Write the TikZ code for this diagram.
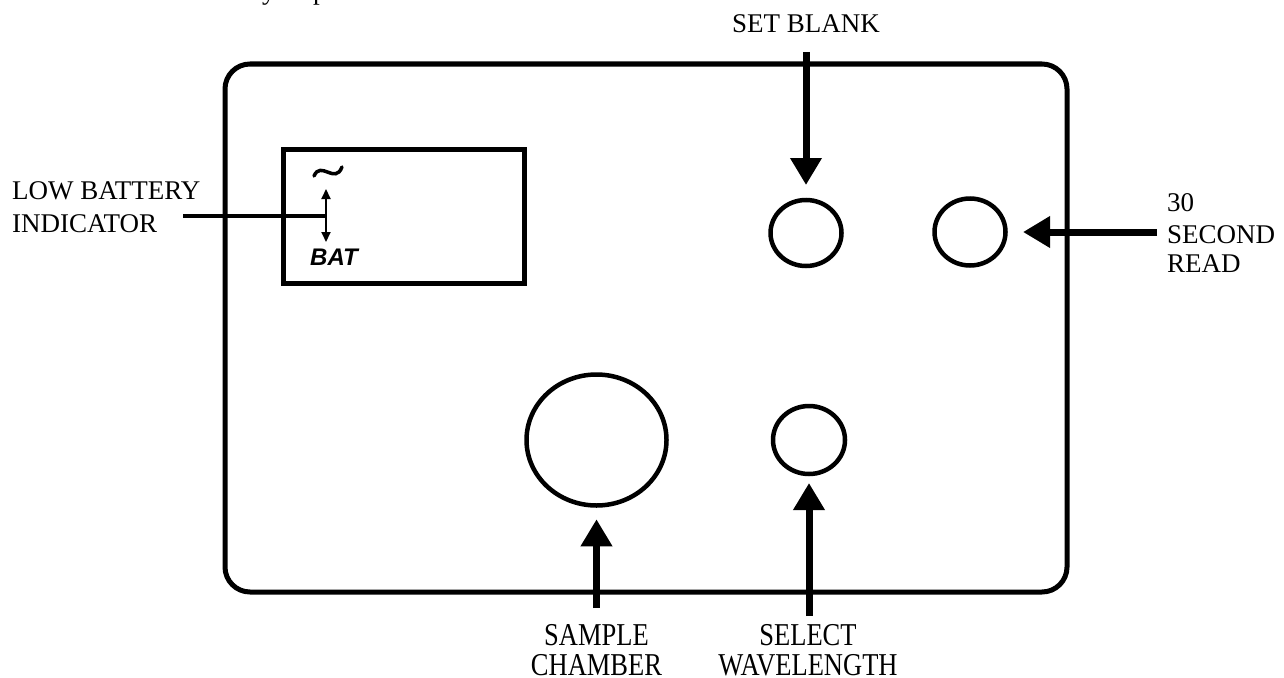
\documentclass[tikz,border=0pt]{standalone}
\usepackage{fontspec}
\setmainfont{Liberation Serif}
\newfontfamily\lcdfont{Liberation Sans}
\usetikzlibrary{arrows.meta,shapes.geometric}

\tikzset{
  panel/.style={draw, line width=5pt, rounded corners=25pt},
  lcdbox/.style={draw, rectangle, line width=5pt, inner sep=0pt},
  knob/.style={draw, ellipse, line width=4.5pt, inner sep=0pt},
  pointer/.style={line width=7pt, -{Triangle[width=30pt,length=27pt]}},
  lbl/.style={font=\fontsize{27}{30}\selectfont, inner sep=0pt},
  tall/.style={font=\fontsize{26.5}{30}\selectfont, inner sep=0pt},
  leader/.style={line width=3.5pt},
  twoway/.style={line width=2pt, {Triangle[width=9pt,length=10pt]}-{Triangle[width=9pt,length=10pt]}},
}

\begin{document}
\begin{tikzpicture}[x=1pt,y=-1pt]
\useasboundingbox (0,0) rectangle (1284,677);

% descenders of a line of text running off the top edge
\begin{scope}
  \clip (0,0) rectangle (1284,677);
  \node[lbl, anchor=base west] (fragy) at (262,0) {y};
  \node[lbl, anchor=base west] (fragp) at (313,0) {p};
\end{scope}

% instrument front panel
\draw[panel] (225,64) rectangle (1067,592);

% display window
\node[lcdbox, minimum width=241pt, minimum height=134pt] (lcd) at (403.5,216) {};
\draw[line width=3.5pt, line cap=round] (314,176) .. controls (321,160) and (335,185) .. (342,167);
\node[anchor=base west, inner sep=0pt, font=\lcdfont\bfseries\itshape\fontsize{24}{24}\selectfont] (bat) at (310,265) {BAT};
\coordinate (batup) at (326,189);
\coordinate (batdown) at (326,242);
\coordinate (batmid) at (326,216);
\draw[twoway] (batup) -- (batdown);

% knobs and sample chamber
\node[knob, minimum width=71pt, minimum height=66pt] (setblank) at (806,233) {};
\node[knob, minimum width=71pt, minimum height=67pt] (readbtn) at (970,232) {};
\node[knob, minimum width=140pt, minimum height=131pt] (sample) at (596.5,440) {};
\node[knob, minimum width=72pt, minimum height=68pt] (wave) at (809,440) {};

% labels
\node[lbl, anchor=base west] (lowbat1) at (12,199) {LOW BATTERY};
\node[lbl, anchor=base west] (lowbat2) at (12,232) {INDICATOR};
\node[lbl, anchor=base] (setlbl) at (806,33) {SET BLANK};
\node[lbl, anchor=base west] (read1) at (1167,211) {30};
\node[lbl, anchor=base west] (read2) at (1167,243) {SECOND};
\node[lbl, anchor=base west] (read3) at (1167,272) {READ};
\node[tall, anchor=base] (samp1) at (596.5,645) {\scalebox{1}[1.2]{SAMPLE}};
\node[tall, anchor=base] (samp2) at (596.5,675) {\scalebox{1}[1.2]{CHAMBER}};
\node[tall, anchor=base] (wave1) at (808,645) {\scalebox{1}[1.2]{SELECT}};
\node[tall, anchor=base] (wave2) at (808,675) {\scalebox{1}[1.2]{WAVELENGTH}};

% leader and pointer arrows
\coordinate (lowbattail) at (183,216);
\draw[leader] (lowbattail) -- (batmid);

\coordinate (settail) at (806,52);
\draw[pointer, shorten >=12.75pt] (settail) -- (setblank.north);

\coordinate (readtail) at (1157,232);
\draw[pointer, shorten >=15.25pt] (readtail) -- (readbtn.east);

\coordinate (samptail) at (596.5,608);
\draw[pointer, shorten >=11.5pt] (samptail) -- (sample.south);

\coordinate (wavetail) at (809,616);
\draw[pointer, shorten >=6.75pt] (wavetail) -- (wave.south);
\end{tikzpicture}
\end{document}
